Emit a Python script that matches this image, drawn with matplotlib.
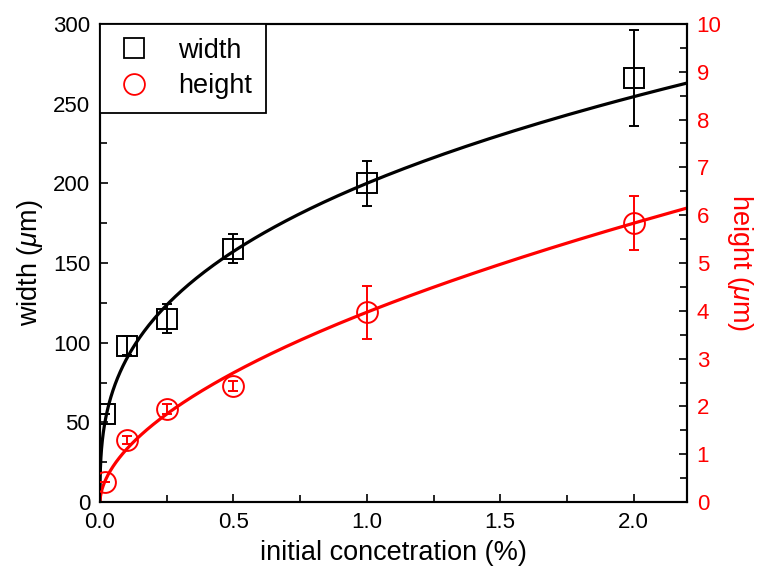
import numpy as np
import matplotlib
matplotlib.use('Agg')
import matplotlib.pyplot as plt
from matplotlib.ticker import MultipleLocator

plt.rcParams['font.family'] = ['Liberation Sans', 'DejaVu Sans']
plt.rcParams['mathtext.fontset'] = 'custom'
plt.rcParams['mathtext.it'] = 'Liberation Sans:italic'

# measured data
conc = [0.02, 0.1, 0.25, 0.5, 1.0, 2.0]
width = [55, 98, 115, 159, 200, 266]
width_err = [0, 6, 9, 9, 14, 30]
height_conc = [0.02, 0.1, 0.25, 0.5, 1.0, 2.0]
height = [0.42, 1.3, 1.95, 2.43, 3.97, 5.84]
height_err = [0, 0.08, 0.1, 0.1, 0.55, 0.57]

# power-law fits y = a * x**b
width_fit = (200.0, 0.347)
height_fit = (3.97, 0.555)

fig = plt.figure(figsize=(7.64, 5.73), dpi=100)
ax = fig.add_axes([100/764, 1 - 502/573, 587/764, 478/573])
ax2 = ax.twinx()

xs = np.concatenate([[0], np.geomspace(1e-5, 2.2, 600)])
ax.plot(xs, width_fit[0] * xs**width_fit[1], color='black', lw=2.3, zorder=2)
ax2.plot(xs, height_fit[0] * xs**height_fit[1], color='red', lw=2.3, zorder=2)

ax.errorbar(conc, width, yerr=width_err, fmt='s', ms=14.5, mfc='none', mec='black',
            mew=1.4, ecolor='black', elinewidth=1.4, capsize=3.5, capthick=1.4,
            zorder=3)
ax2.errorbar(height_conc, height, yerr=height_err, fmt='o', ms=15, mfc='none', mec='red',
             mew=1.4, ecolor='red', elinewidth=1.4, capsize=3.5, capthick=1.4, zorder=3)

ax.set_xlim(0, 2.2)
ax.set_ylim(0, 300)
ax2.set_ylim(0, 10)

ax.xaxis.set_major_locator(MultipleLocator(0.5))
ax.xaxis.set_minor_locator(MultipleLocator(0.25))
ax.yaxis.set_major_locator(MultipleLocator(50))
ax.yaxis.set_minor_locator(MultipleLocator(25))
ax2.yaxis.set_major_locator(MultipleLocator(1))
ax2.yaxis.set_minor_locator(MultipleLocator(0.5))
ax.xaxis.set_major_formatter(matplotlib.ticker.FormatStrFormatter('%.1f'))

ax.tick_params(which='both', direction='in', top=False, labelsize=16, width=1.2)
ax.tick_params(which='major', length=6, pad=7)
ax.tick_params(which='minor', length=5)
ax2.tick_params(which='both', direction='in', labelsize=16, labelcolor='red', width=1.2)
ax2.tick_params(which='major', length=6, pad=7)
ax2.tick_params(which='minor', length=5)

for a in (ax, ax2):
    for s in a.spines.values():
        s.set_linewidth(1.5)

ax.set_xlabel('initial concetration (%)', fontsize=19.5, labelpad=5)
ax.set_ylabel(r'width ($\mu$m)', fontsize=19.5, labelpad=6)
ax2.set_ylabel(r'height ($\mu$m)', fontsize=19.5, color='red', rotation=270, labelpad=24)

# legend with both series
h1 = plt.Line2D([], [], ls='none', marker='s', ms=15, mfc='none', mec='black', mew=1.3)
h2 = plt.Line2D([], [], ls='none', marker='o', ms=15, mfc='none', mec='red', mew=1.3)
leg = ax2.legend([h1, h2], ['width', 'height'], loc='upper left', fontsize=19.5,
                 frameon=True, fancybox=False, edgecolor='black', borderaxespad=0,
                 handletextpad=0.9, labelspacing=0.35, borderpad=0.5, handlelength=1.5,
                 framealpha=1)
leg.get_frame().set_linewidth(1.3)
leg.set_zorder(5)

plt.savefig('out.png', dpi=100)
